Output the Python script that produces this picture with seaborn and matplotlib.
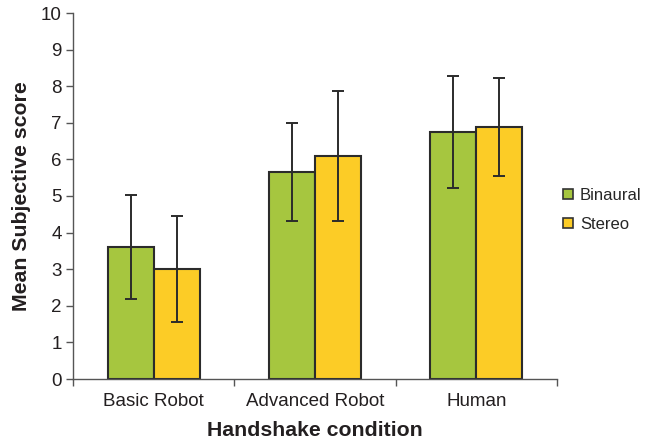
import matplotlib
matplotlib.use("Agg")
import matplotlib.pyplot as plt
import seaborn as sns
import pandas as pd
import numpy as np
from matplotlib.lines import Line2D

categories = ["Basic Robot", "Advanced Robot", "Human"]
series = ["Binaural", "Stereo"]
binaural_mean = [3.61, 5.66, 6.76]
stereo_mean = [3.00, 6.09, 6.89]
binaural_low = [2.18, 4.33, 5.21]
binaural_high = [5.04, 6.99, 8.28]
stereo_low = [1.57, 4.32, 5.55]
stereo_high = [4.46, 7.87, 8.22]

colors = {"Binaural": "#A6C63F", "Stereo": "#FCCC26"}

sns.set_theme(style="white")
plt.rcParams["font.family"] = ["Liberation Sans", "DejaVu Sans"]

df = pd.DataFrame({
    "cond": categories * 2,
    "series": ["Binaural"] * 3 + ["Stereo"] * 3,
    "mean": binaural_mean + stereo_mean,
})

fig = plt.figure(figsize=(6.5, 4.41), dpi=100)
ax = fig.add_axes([73 / 650, 1 - 379 / 441, (557 - 73) / 650, (379 - 13) / 441])

sns.barplot(data=df, x="cond", y="mean", hue="series", palette=colors,
            width=0.57, gap=0, edgecolor="#2b2b2b", linewidth=1.5,
            errorbar=None, legend=False, ax=ax, saturation=1)

lows = {"Binaural": binaural_low, "Stereo": stereo_low}
highs = {"Binaural": binaural_high, "Stereo": stereo_high}
means = {"Binaural": binaural_mean, "Stereo": stereo_mean}
for cont, s in zip(ax.containers, series):
    xs = [p.get_x() + p.get_width() / 2 for p in cont.patches]
    m = np.array(means[s])
    lo = m - np.array(lows[s])
    hi = np.array(highs[s]) - m
    ax.errorbar(xs, m, yerr=[lo, hi], fmt="none", ecolor="#2b2b2b",
                elinewidth=1.4, capsize=4, capthick=1.4, zorder=5)

ax.set_xlim(-0.5, 2.5)
ax.set_ylim(0, 10)
ax.set_yticks(range(0, 11))
ax.set_xticks(range(3))
ax.set_xticklabels(categories)
ax.set_xticks([-0.5, 0.5, 1.5, 2.5], minor=True)
ax.tick_params(axis="x", which="major", length=0, pad=10, labelsize=13.5, colors="#231f20")
ax.tick_params(axis="x", which="minor", length=5, width=1, color="#555555", direction="out", bottom=True)
ax.tick_params(axis="y", length=5, width=1, color="#555555", direction="out", left=True, labelsize=13.5, labelcolor="#231f20", pad=3)

for sp in ["top", "right"]:
    ax.spines[sp].set_visible(False)
for sp in ["left", "bottom"]:
    ax.spines[sp].set_color("#555555")
    ax.spines[sp].set_linewidth(1)

ax.set_xlabel("Handshake condition", fontsize=15.3, fontweight="bold", color="#231f20", labelpad=8)
ax.set_ylabel("Mean Subjective score", fontsize=15.3, fontweight="bold", color="#231f20", labelpad=7)

handles = [Line2D([0], [0], marker="s", linestyle="none", markersize=7,
                  markerfacecolor=colors[s], markeredgecolor="#333333", markeredgewidth=1.2)
           for s in series]
fig.legend(handles, series, loc="center left", bbox_to_anchor=(560 / 650, 1 - 210 / 441),
           frameon=False, fontsize=12, handletextpad=0.2, labelspacing=0.8, handlelength=1.0,
           borderaxespad=0, borderpad=0)

fig.savefig("out.png", dpi=100)
